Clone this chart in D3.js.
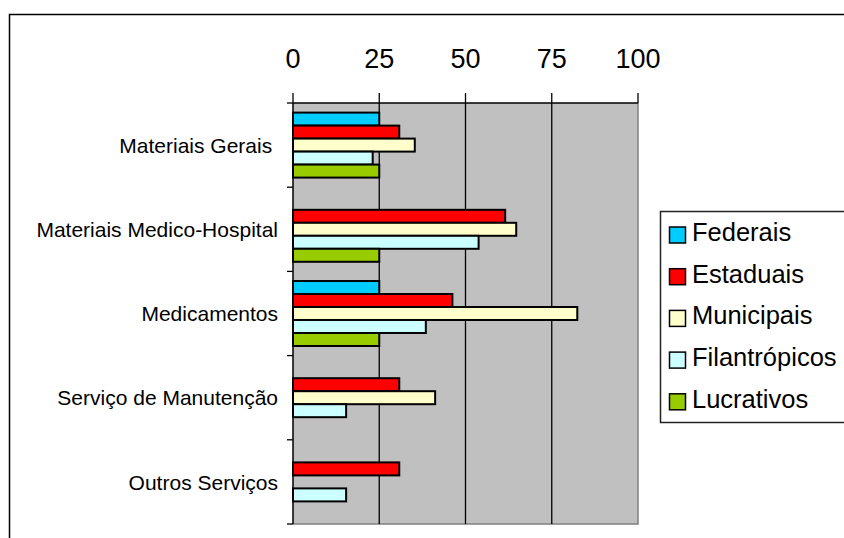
<!DOCTYPE html>
<html>
<head>
<meta charset="utf-8">
<script src="https://cdn.jsdelivr.net/npm/d3@7"></script>
<style>
  html, body { margin: 0; padding: 0; background: #fff; }
  svg { display: block; font-family: "Liberation Sans", Arial, sans-serif; }
  text.cat { white-space: pre; }
</style>
</head>
<body>
<svg id="chart" width="844" height="538"></svg>
<script>
// Categories of purchases (one band per category, top to bottom)
const categories = [
  "Materiais Gerais ",
  "Materiais Medico-Hospital",
  "Medicamentos",
  "Serviço de Manutenção",
  "Outros Serviços"
];

// Series (percentages), in the same order as categories
const seriesNames = ["Federais", "Estaduais", "Municipais", "Filantrópicos", "Lucrativos"];
const federais      = [25,   0,    25,   0,    0];
const estaduais     = [30.8, 61.5, 46.2, 30.8, 30.8];
const municipais    = [35.3, 64.7, 82.4, 41.2, 0];
const filantropicos = [23.1, 53.8, 38.5, 15.4, 15.4];
const lucrativos    = [25,   25,   25,   0,    0];
const seriesColors  = ["#00ccff", "#ff0000", "#ffffcc", "#ccffff", "#99cc00"];

const xTicks = [0, 25, 50, 75, 100];

const seriesValues = [federais, estaduais, municipais, filantropicos, lucrativos];

const svg = d3.select("#chart");

// Outer chart frame (top and left edges visible)
svg.append("path")
  .attr("d", "M9.5,545 L9.5,14.5 L850,14.5")
  .attr("fill", "none")
  .attr("stroke", "#000")
  .attr("stroke-width", 1.5);

const plot = { left: 293, right: 638, top: 103, bottom: 524 };

const x = d3.scaleLinear().domain([0, 100]).range([plot.left, plot.right]);
const y = d3.scaleBand().domain(categories).range([plot.top, plot.bottom]).padding(0);
const ySub = d3.scaleBand().domain(seriesNames).range([0, y.bandwidth()])
  .paddingInner(0).paddingOuter(0.74);

// Plot area background
svg.append("rect")
  .attr("x", plot.left).attr("y", plot.top)
  .attr("width", plot.right - plot.left).attr("height", plot.bottom - plot.top)
  .attr("fill", "#c0c0c0");

// Right and bottom border of the plot area
svg.append("path")
  .attr("d", `M${plot.right},${plot.top} L${plot.right},${plot.bottom} L${plot.left},${plot.bottom}`)
  .attr("fill", "none").attr("stroke", "#808080").attr("stroke-width", 1.5);

// Vertical gridlines
svg.append("g").selectAll("line")
  .data(xTicks.filter(t => t > 0 && t < 100))
  .join("line")
  .attr("x1", d => x(d)).attr("x2", d => x(d))
  .attr("y1", plot.top).attr("y2", plot.bottom)
  .attr("stroke", "#000").attr("stroke-width", 1.3);

// Bars
const rows = [];
categories.forEach((c, ci) => {
  seriesNames.forEach((s, si) => {
    const v = seriesValues[si][ci];
    if (v > 0) rows.push({ cat: c, series: s, value: v, color: seriesColors[si] });
  });
});

svg.append("g").selectAll("rect")
  .data(rows)
  .join("rect")
  .attr("x", x(0))
  .attr("y", d => y(d.cat) + ySub(d.series))
  .attr("width", d => x(d.value) - x(0))
  .attr("height", ySub.bandwidth())
  .attr("fill", d => d.color)
  .attr("stroke", "#000")
  .attr("stroke-width", 2);

// Top axis
const topAxis = svg.append("g");
topAxis.append("line")
  .attr("x1", plot.left).attr("x2", plot.right)
  .attr("y1", plot.top).attr("y2", plot.top)
  .attr("stroke", "#000").attr("stroke-width", 1.5);
topAxis.selectAll("line.tick")
  .data(xTicks)
  .join("line").attr("class", "tick")
  .attr("x1", d => x(d)).attr("x2", d => x(d))
  .attr("y1", plot.top - 10).attr("y2", plot.top)
  .attr("stroke", "#000").attr("stroke-width", 1.3);
topAxis.selectAll("text")
  .data(xTicks)
  .join("text")
  .attr("x", d => x(d))
  .attr("y", 68)
  .attr("text-anchor", "middle")
  .attr("font-size", 27)
  .attr("fill", "#000")
  .text(d => d);

// Left axis
const leftAxis = svg.append("g");
leftAxis.append("line")
  .attr("x1", plot.left).attr("x2", plot.left)
  .attr("y1", plot.top).attr("y2", plot.bottom)
  .attr("stroke", "#000").attr("stroke-width", 1.5);
const boundaries = categories.map(c => y(c)).concat([plot.bottom]);
leftAxis.selectAll("line.tick")
  .data(boundaries)
  .join("line").attr("class", "tick")
  .attr("x1", plot.left - 6).attr("x2", plot.left)
  .attr("y1", d => d).attr("y2", d => d)
  .attr("stroke", "#000").attr("stroke-width", 1.3);
leftAxis.selectAll("text")
  .data(categories)
  .join("text")
  .attr("class", "cat")
  .attr("x", 278)
  .attr("y", d => y(d) + y.bandwidth() / 2)
  .attr("dy", "0.37em")
  .attr("text-anchor", "end")
  .attr("font-size", 21)
  .attr("fill", "#000")
  .text(d => d);

// Legend
const legend = svg.append("g");
legend.append("rect")
  .attr("x", 660.5).attr("y", 211.5)
  .attr("width", 200).attr("height", 211)
  .attr("fill", "#fff").attr("stroke", "#222").attr("stroke-width", 1.5);
const item = legend.selectAll("g.item")
  .data(seriesNames)
  .join("g").attr("class", "item")
  .attr("transform", (d, i) => `translate(0, ${241 + i * 41.7})`);
item.append("rect")
  .attr("x", 669.5).attr("y", -14)
  .attr("width", 16).attr("height", 16)
  .attr("fill", (d, i) => seriesColors[i])
  .attr("stroke", "#000").attr("stroke-width", 1.5);
item.append("text")
  .attr("x", 692)
  .attr("y", 0)
  .attr("font-size", 25.5)
  .attr("fill", "#000")
  .text(d => d);
</script>
</body>
</html>
